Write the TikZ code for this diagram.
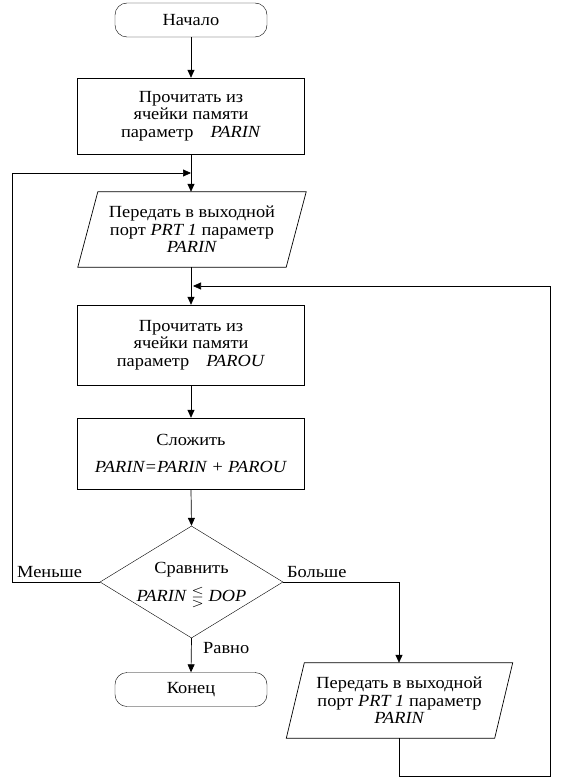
\documentclass[tikz,border=0pt]{standalone}
\usepackage{amssymb}
\usepackage{fontspec}
\setmainfont[FakeStretch=1.08]{Liberation Serif}
\usetikzlibrary{arrows.meta,shapes.geometric,calc}
\begin{document}
\begin{tikzpicture}[x=1pt,y=-1pt,
  every node/.style={font=\fontsize{17}{17.5}\selectfont, align=center, inner sep=0pt},
  term/.style={draw, rounded corners=12pt, minimum width=152pt, minimum height=34pt},
  proc/.style={draw, minimum width=227pt},
  iobox/.style={minimum width=208pt, minimum height=75pt},
  dec/.style={draw, diamond, minimum width=183pt, minimum height=112pt, aspect=1.63},
  lbl/.style={font=\fontsize{17}{17.5}\selectfont},
  line/.style={line width=0.7pt},
  arr/.style={line width=0.7pt, -{Triangle[length=8pt,width=7pt]}}]
\useasboundingbox (0,0) rectangle (564,781);
\node[term] (start) at (191,20) {Начало};
\node[proc, minimum height=76pt] (r1) at (191,116) {Прочитать из\\ячейки памяти\\параметр\quad\textit{PARIN}};
\node[iobox] (p1) at (192,229.5) {Передать в выходной\\порт \textit{PRT 1} параметр\\\textit{PARIN}};
\draw[line] ([xshift=10pt]p1.north west) -- ([xshift=10pt]p1.north east) -- ([xshift=-10pt]p1.south east) -- ([xshift=-10pt]p1.south west) -- cycle;
\node[proc, minimum height=80pt] (r2) at (191,345) {Прочитать из\\ячейки памяти\\параметр\quad\textit{PAROU}};
\node[proc, minimum height=71pt] (r3) at (191,453.5) {Сложить\\[10pt]\textit{PARIN=PARIN + PAROU}};
\node[dec] (d) at (191.5,582) {};
\node at (191.5,570) {Сравнить};
\node at (191.5,597) {\textit{PARIN} {\fontsize{16}{16}\selectfont$\lesseqgtr$} \textit{DOP}};
\node[term] (end) at (191,689.5) {Конец};
\node[iobox] (p2) at (399.5,700.5) {Передать в выходной\\порт \textit{PRT 1} параметр\\\textit{PARIN}};
\draw[line] ([xshift=9pt]p2.north west) -- ([xshift=9pt]p2.north east) -- ([xshift=-9pt]p2.south east) -- ([xshift=-9pt]p2.south west) -- cycle;
\coordinate (j1) at (191,173);
\coordinate (j2) at (193,286);
\coordinate (lc) at (12,582);
\coordinate (bc) at (399,776);
\coordinate (rc) at (550,286);
\coordinate (gc) at (399,582);
\draw[arr] (start.south) -- (r1.north);
\draw[arr] (r1.south) -- (p1.north -| r1.south);
\draw[arr] (d.west) -- (lc) |- (j1);
\draw[arr] (p1.south -| r1.south) -- (r2.north);
\draw[arr] (r2.south) -- (r3.north);
\draw[arr] (r3.south) -- (d.north);
\draw[arr] (d.south) -- (end.north);
\draw[arr] (d.east) -- (gc) -- (p2.north -| gc);
\draw[arr] (p2.south -| bc) -- (bc) -| (rc) -- (j2);
\node[lbl, anchor=base west] (lm) at (17,577) {Меньше};
\node[lbl, anchor=base west] (lb) at (287,577) {Больше};
\node[lbl, anchor=base west] (lr) at (203,653) {Равно};
\end{tikzpicture}
\end{document}
